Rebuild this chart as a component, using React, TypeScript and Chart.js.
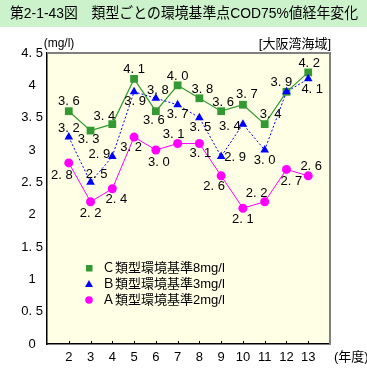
import React, { useEffect, useRef } from 'react';
import { Chart, registerables } from 'chart.js';

Chart.register(...registerables);

// ---- data ----
const years = [2, 3, 4, 5, 6, 7, 8, 9, 10, 11, 12, 13];
const seriesC = [3.6, 3.3, 3.4, 4.1, 3.6, 4.0, 3.8, 3.6, 3.7, 3.4, 3.9, 4.2];
const seriesB = [3.2, 2.5, 2.9, 3.9, 3.8, 3.7, 3.5, 2.9, 3.4, 3.0, 3.9, 4.1];
const seriesA = [2.8, 2.2, 2.4, 3.2, 3.0, 3.1, 3.1, 2.6, 2.1, 2.2, 2.7, 2.6];
const seriesNames = ['Ｃ類型環境基準8mg/l', 'Ｂ類型環境基準3mg/l', 'Ａ類型環境基準2mg/l'];
const titleText = '第2-1-43図　類型ごとの環境基準点COD75%値経年変化';
const unitText = '(mg/l)';
const regionText = '[大阪湾海域]';
const xUnitText = '(年度)';

// ---- value label placement (pixel offsets from the point) ----
const offC: ([number, number] | null)[] = [
  [0, -10], [-2, 9], [-8, -8], [0, -9], [-2, 9], [0, -9], [3, -9], [2, -9], [4, -10], [6, -10], [-5, -9], [1, -9],
];
const offB: ([number, number] | null)[] = [
  [0, -9], [6, -8], [-13, -2], [1, 10], [2, -8], [0, 10], [1, 10], [14, 1], [-13, 2], [0, 10], null, [4, 11],
];
const offA: ([number, number] | null)[] = [
  [-7, 12], [0, 12], [4, 11], [-3, 10], [3, 12], [-4, -9], [1, 10], [-7, 11], [0, 11], [-8, -8], [5, 12], [3, -9],
];

const FONT = '"Liberation Sans", "Noto Sans CJK JP", sans-serif';
const GREEN = '#339933';
const BLUE = '#0000ff';
const MAGENTA = '#ff00ff';

const fmt = (v: number) => v.toFixed(1).replace('.', '. ');

const decorPlugin = {
  id: 'decor',
  beforeDraw(chart: any) {
    const { ctx, chartArea: a } = chart;
    ctx.save();
    ctx.fillStyle = '#ffffff';
    ctx.fillRect(0, 0, chart.width, chart.height);
    // title band
    ctx.fillStyle = '#ccf2cc';
    ctx.fillRect(0, 0, chart.width, 27);
    ctx.fillStyle = '#000';
    ctx.font = '15px ' + FONT;
    ctx.textBaseline = 'middle';
    ctx.textAlign = 'left';
    ctx.fillText(titleText, 10, 14, 348);
    // plot background
    ctx.fillStyle = '#ffffe6';
    ctx.fillRect(a.left, a.top, a.right - a.left, a.bottom - a.top);
    // unit + region
    ctx.fillStyle = '#000';
    ctx.font = '12px ' + FONT;
    ctx.textAlign = 'center';
    ctx.fillText(unitText, 59, 44);
    ctx.font = '13px ' + FONT;
    ctx.textAlign = 'right';
    ctx.fillText(regionText, a.right + 1, 44);
    ctx.restore();
  },
  afterDraw(chart: any) {
    const { ctx, chartArea: a } = chart;
    ctx.save();
    // top/right frame
    ctx.strokeStyle = '#808080';
    ctx.lineWidth = 2;
    ctx.beginPath();
    ctx.moveTo(a.left, a.top);
    ctx.lineTo(a.right, a.top);
    ctx.lineTo(a.right, a.bottom);
    ctx.stroke();
    // inward x ticks
    const xs = chart.scales.x;
    ctx.strokeStyle = '#000';
    ctx.lineWidth = 1;
    ctx.beginPath();
    years.forEach((yr) => {
      const px = Math.round(xs.getPixelForValue(yr)) + 0.5;
      ctx.moveTo(px, a.bottom);
      ctx.lineTo(px, a.bottom - 3);
    });
    ctx.stroke();
    // x unit
    ctx.fillStyle = '#000';
    ctx.font = '13px ' + FONT;
    ctx.textAlign = 'left';
    ctx.textBaseline = 'middle';
    ctx.fillText(xUnitText, a.right + 4, 357);
    // value labels
    const offs = [offA, offB, offC];
    const vals = [seriesA, seriesB, seriesC];
    ctx.font = '13px ' + FONT;
    ctx.textAlign = 'center';
    for (let d = 0; d < 3; d++) {
      const meta = chart.getDatasetMeta(d);
      meta.data.forEach((el: any, i: number) => {
        const o = offs[d][i];
        if (!o) return;
        ctx.fillText(fmt(vals[d][i]), el.x + o[0], el.y + o[1]);
      });
    }
    // legend
    const lx = 89;
    const rows = [268, 284, 300];
    const cols = [GREEN, BLUE, MAGENTA];
    rows.forEach((ry, i) => {
      ctx.fillStyle = cols[i];
      ctx.beginPath();
      if (i === 0) {
        ctx.rect(lx - 3, ry - 3, 6.5, 6.5);
      } else if (i === 1) {
        ctx.moveTo(lx, ry - 4);
        ctx.lineTo(lx + 4, ry + 3);
        ctx.lineTo(lx - 4, ry + 3);
        ctx.closePath();
      } else {
        ctx.arc(lx, ry, 3.8, 0, Math.PI * 2);
      }
      ctx.fill();
      ctx.fillStyle = '#000';
      ctx.textAlign = 'left';
      ctx.fillText(seriesNames[i], 102, ry);
    });
    ctx.restore();
  },
};

export default function App() {
  const ref = useRef<HTMLCanvasElement>(null);
  useEffect(() => {
    if (!ref.current) return;
    const toXY = (arr: number[]) => arr.map((v, i) => ({ x: years[i], y: v }));
    const chart = new Chart(ref.current, {
      type: 'line',
      data: {
        datasets: [
          {
            label: seriesNames[2],
            data: toXY(seriesA),
            borderColor: MAGENTA,
            backgroundColor: MAGENTA,
            borderWidth: 1,
            pointStyle: 'circle',
            pointRadius: 4.5,
            pointBorderWidth: 0,
            tension: 0,
          },
          {
            label: seriesNames[1],
            data: toXY(seriesB),
            borderColor: BLUE,
            backgroundColor: BLUE,
            borderWidth: 1,
            borderDash: [2, 2],
            pointStyle: 'triangle',
            pointRadius: 5,
            pointBorderWidth: 0,
            tension: 0,
          },
          {
            label: seriesNames[0],
            data: toXY(seriesC),
            borderColor: GREEN,
            backgroundColor: GREEN,
            borderWidth: 1.2,
            pointStyle: 'rect',
            pointRadius: 5.5,
            pointBorderWidth: 0,
            tension: 0,
          },
        ],
      },
      options: {
        animation: false,
        responsive: false,
        maintainAspectRatio: false,
        layout: { padding: { top: 53, right: 37, left: 0, bottom: 0 } },
        plugins: { legend: { display: false }, tooltip: { enabled: false }, title: { display: false } },
        scales: {
          x: {
            type: 'linear',
            min: 1,
            max: 14,
            grid: { display: false, drawTicks: false },
            border: { display: true, color: '#000', width: 1.5 },
            ticks: {
              stepSize: 1,
              padding: 6,
              color: '#000',
              font: { size: 13, family: FONT },
              maxRotation: 0,
              autoSkip: false,
              callback: (v: any) => (v >= 2 && v <= 13 ? String(v) : ''),
            },
            afterFit: (s: any) => {
              s.height = 26;
            },
          },
          y: {
            min: 0,
            max: 4.5,
            grid: { display: false, drawTicks: false },
            border: { display: true, color: '#000', width: 1.5 },
            ticks: {
              stepSize: 0.5,
              padding: 4,
              crossAlign: 'center',
              color: '#000',
              font: { size: 13, family: FONT },
              callback: (v: any) => (Number.isInteger(v) ? String(v) : fmt(Number(v))),
            },
            afterFit: (s: any) => {
              s.width = 47;
            },
          },
        },
      },
      plugins: [decorPlugin],
    });
    return () => chart.destroy();
  }, []);
  return (
    <div style={{ position: 'absolute', left: 0, top: 0, width: 367, height: 370 }}>
      <canvas ref={ref} width={367} height={370} style={{ display: 'block', width: 367, height: 370 }} />
    </div>
  );
}
